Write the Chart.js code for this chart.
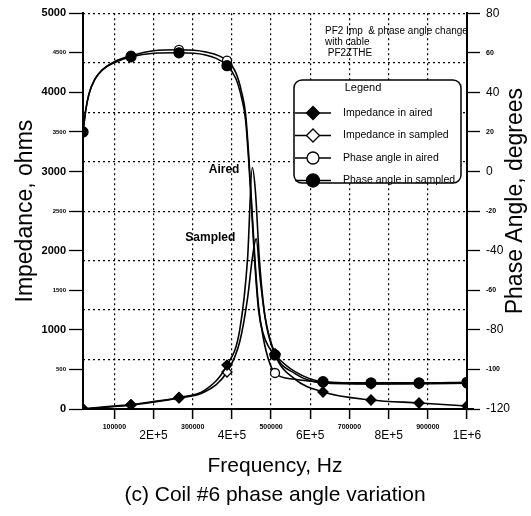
<!DOCTYPE html>
<html><head><meta charset="utf-8">
<script src="https://cdn.jsdelivr.net/npm/chart.js@4/dist/chart.umd.min.js"></script>
<style>html,body{margin:0;padding:0;background:#fff;}canvas{display:block;}</style>
</head><body>
<canvas id="c" width="531" height="516"></canvas>
<script>
// ---- data ----
const markerFreqs = [20000, 142500, 265000, 387500, 510000, 632500, 755000, 877500, 1000000];

const impAiredFreq = [20000, 70000, 142500, 200000, 265000, 330000, 387500, 420000, 440000, 452000, 460000, 470000, 485000, 510000, 560000, 632500, 755000, 877500, 1000000];
const impAiredVal  = [0, 25, 55, 95, 145, 235, 555, 1000, 1900, 3050, 2750, 1900, 1150, 690, 380, 215, 114, 76, 38];

const impSampledFreq = [20000, 142500, 265000, 330000, 387500, 420000, 440000, 452000, 462000, 472000, 485000, 510000, 560000, 632500, 755000, 877500, 1000000];
const impSampledVal  = [0, 50, 140, 215, 467, 850, 1400, 1900, 2150, 1650, 1150, 700, 450, 330, 318, 322, 328];

const phaseFreq = [20000, 27000, 35000, 50000, 70000, 100000, 142500, 200000, 265000, 330000, 387500, 410000, 425000, 435000, 443000, 450000, 458000, 468000, 480000, 495000, 510000, 560000, 632500, 755000, 877500, 1000000];
const phaseAiredVal   = [20, 31, 39, 46.5, 51.5, 55.5, 58.5, 61, 61.5, 60.5, 56, 50, 40, 29, 8, -15, -42, -68, -84, -96, -101.8, -105, -106.5, -107.2, -107.2, -107];
const phaseSampledVal = [20, 31, 39, 46.5, 51.5, 55, 58, 59.8, 60, 59, 53.5, 47, 37, 26, 5, -18, -45, -70, -82, -89, -92.7, -101, -106.2, -106.8, -106.8, -106.5];

const xTickVals   = [100000, 200000, 300000, 400000, 500000, 600000, 700000, 800000, 900000, 1000000];
const xTickLabels = ['100000', '2E+5', '300000', '4E+5', '500000', '6E+5', '700000', '8E+5', '900000', '1E+6'];
const yLeftTickVals   = [0, 500, 1000, 1500, 2000, 2500, 3000, 3500, 4000, 4500, 5000];
const yLeftTickLabels = ['0', '500', '1000', '1500', '2000', '2500', '3000', '3500', '4000', '4500', '5000'];
const yRightTickVals   = [-120, -100, -80, -60, -40, -20, 0, 20, 40, 60, 80];
const yRightTickLabels = ['-120', '-100', '-80', '-60', '-40', '-20', '0', '20', '40', '60', '80'];
const gridRowVals = [0, 1, 2, 3, 4, 5, 6, 7, 8];

const seriesLabels = ['Impedance in aired', 'Impedance in sampled', 'Phase angle in aired', 'Phase angle in sampled'];
const xTitleLines = ['Frequency, Hz', '(c) Coil #6 phase angle variation'];
const yLeftTitle = 'Impedance, ohms';
const yRightTitle = 'Phase Angle, degrees';
const legendTitle = 'Legend';
const noteLines = ['PF2 Imp  & phase angle change', 'with cable', ' PF2ZTHE'];
const peakLabelText = ['Aired', 'Sampled'];
const peakLabelFreq = [380000, 345000];
const peakLabelImp  = [3020, 2170];

// ---- helpers ----
const FAM = '"Liberation Sans", Arial, Helvetica, sans-serif';
const pts = (xs, ys) => xs.map((x, i) => ({x, y: ys[i]}));
const isMarker = ctx => ctx.raw && markerFreqs.includes(ctx.raw.x);

const styles = [
  {pointStyle: 'rectRot', radius: 5, fill: '#000', order: 2},
  {pointStyle: 'rectRot', radius: 5, fill: '#fff', order: 3},
  {pointStyle: 'circle', radius: 4.5, fill: '#fff', order: 4},
  {pointStyle: 'circle', radius: 5, fill: '#000', order: 1}
];

function ds(i, data, axis) {
  const s = styles[i];
  return {
    label: seriesLabels[i], data, yAxisID: axis, order: s.order,
    borderColor: '#000', borderWidth: 1.6, backgroundColor: s.fill,
    pointStyle: s.pointStyle,
    pointRadius: ctx => isMarker(ctx) ? s.radius : 0,
    pointBackgroundColor: s.fill, pointBorderColor: '#000', pointBorderWidth: 1.3,
    cubicInterpolationMode: 'monotone', fill: false
  };
}

const extras = {
  id: 'extras',
  afterDraw(chart) {
    const {ctx, chartArea, scales} = chart;
    ctx.save();
    ctx.fillStyle = '#000'; ctx.strokeStyle = '#000';
    // x axis line running a little past the right axis
    ctx.beginPath(); ctx.lineWidth = 2;
    ctx.moveTo(chartArea.right, chartArea.bottom); ctx.lineTo(chartArea.right + 7, chartArea.bottom); ctx.stroke();
    // right axis title (reads bottom to top)
    ctx.save();
    ctx.translate(516, (chartArea.top + chartArea.bottom) / 2 - 10);
    ctx.rotate(-Math.PI / 2);
    ctx.font = '23px ' + FAM;
    ctx.textAlign = 'center'; ctx.textBaseline = 'middle';
    ctx.fillText(yRightTitle, 0, 0);
    ctx.restore();

    // note text
    ctx.font = '10px ' + FAM;
    ctx.textAlign = 'left'; ctx.textBaseline = 'middle';
    noteLines.forEach((t, i) => ctx.fillText(t, 325, 31 + i * 11));

    // peak labels
    ctx.font = 'bold 12px ' + FAM;
    ctx.textAlign = 'center';
    peakLabelText.forEach((t, i) => {
      ctx.fillText(t, scales.x.getPixelForValue(peakLabelFreq[i]), scales.y.getPixelForValue(peakLabelImp[i]));
    });

    // legend box
    const bx = 294, by = 80, bw = 167, bh = 103;
    ctx.beginPath();
    ctx.roundRect(bx, by, bw, bh, 8);
    ctx.fillStyle = '#fff'; ctx.fill();
    ctx.lineWidth = 1.5; ctx.strokeStyle = '#000'; ctx.stroke();
    ctx.fillStyle = '#000';
    ctx.font = '11px ' + FAM; ctx.textAlign = 'center';
    ctx.fillText(legendTitle, 363, 88);
    ctx.textAlign = 'left';
    ctx.font = '10.5px ' + FAM;
    chart.data.datasets.forEach((d, i) => {
      const yy = 113 + i * 22.5;
      ctx.beginPath(); ctx.moveTo(295, yy); ctx.lineTo(331, yy);
      ctx.lineWidth = 1.6; ctx.strokeStyle = '#000'; ctx.stroke();
      const s = styles[i];
      ctx.fillStyle = s.fill; ctx.strokeStyle = '#000'; ctx.lineWidth = 1.3;
      Chart.helpers.drawPoint(ctx, {pointStyle: s.pointStyle, radius: s.radius + 1.5, borderWidth: 1.3, rotation: 0}, 313, yy);
      ctx.fillStyle = '#000';
      ctx.fillText(d.label, 343, yy);
    });
    ctx.restore();
  }
};

Chart.defaults.font.family = FAM;
Chart.defaults.color = '#000';

new Chart(document.getElementById('c'), {
  type: 'line',
  data: {
    datasets: [
      ds(0, pts(impAiredFreq, impAiredVal), 'y'),
      ds(1, pts(impSampledFreq, impSampledVal), 'y'),
      ds(2, pts(phaseFreq, phaseAiredVal), 'y1'),
      ds(3, pts(phaseFreq, phaseSampledVal), 'y1')
    ]
  },
  options: {
    responsive: false, animation: false, devicePixelRatio: 1,
    layout: {padding: {top: 13, left: 0, right: 0, bottom: 0}},
    plugins: {legend: {display: false}, tooltip: {enabled: false}},
    scales: {
      x: {
        type: 'linear', position: 'bottom', min: 20000, max: 1000000,
        afterBuildTicks: s => { s.ticks = xTickVals.map(v => ({value: v})); },
        afterFit: s => { s.height = 107; },
        border: {display: true, color: '#000', width: 2, dash: [2, 3]},
        grid: {display: true, drawOnChartArea: true, drawTicks: true, color: '#000', lineWidth: 1.2,
               tickLength: 10, tickColor: '#000', tickWidth: 1.5},
        ticks: {
          autoSkip: false, maxRotation: 0, padding: 2,
          callback: (v, i) => xTickLabels[i],
          font: ctx => (xTickLabels[ctx.index] || '').includes('E')
            ? {size: 12, lineHeight: '30px', family: FAM}
            : {size: 7, lineHeight: '12px', family: FAM, weight: 'bold'}
        },
        title: {display: true, text: xTitleLines, font: {size: 21, lineHeight: '29px', family: FAM}, padding: {top: 0, bottom: 6.5}}
      },
      y: {
        type: 'linear', position: 'left', min: 0, max: 5000,
        afterBuildTicks: s => { s.ticks = yLeftTickVals.map(v => ({value: v})); },
        afterFit: s => { s.width = 83; },
        border: {display: true, color: '#000', width: 2},
        grid: {drawOnChartArea: false, drawTicks: true, tickLength: 14, tickColor: '#000', tickWidth: 1.3},
        ticks: {
          padding: 3,
          callback: (v, i) => yLeftTickLabels[i],
          font: ctx => (ctx.tick && ctx.tick.value % 1000 === 0)
            ? {size: 11, family: FAM, weight: 'bold'}
            : {size: 6, family: FAM, weight: 'bold'}
        },
        title: {display: true, text: yLeftTitle, font: {size: 23, family: FAM}, padding: {top: 12, bottom: 0}}
      },
      y1: {
        type: 'linear', position: 'right', min: -120, max: 80,
        afterBuildTicks: s => { s.ticks = yRightTickVals.map(v => ({value: v})); },
        afterFit: s => { s.width = 64; },
        border: {display: true, color: '#000', width: 2},
        grid: {drawOnChartArea: false, drawTicks: true, tickLength: 13, tickColor: '#000', tickWidth: 1.3},
        ticks: {
          padding: 6,
          callback: (v, i) => yRightTickLabels[i],
          font: ctx => (ctx.tick && ctx.tick.value % 40 === 0)
            ? {size: 12, family: FAM}
            : {size: 7, family: FAM, weight: 'bold'}
        }
      },
      yg: {
        type: 'linear', axis: 'y', position: 'left', min: 0, max: 8,
        afterBuildTicks: s => { s.ticks = gridRowVals.map(v => ({value: v})); },
        afterFit: s => { s.width = 0; },
        border: {display: false, dash: [2, 3]},
        grid: {drawOnChartArea: true, drawTicks: false, color: '#000', lineWidth: 1.2},
        ticks: {display: false}
      }
    }
  },
  plugins: [extras]
});
</script>
</body></html>
